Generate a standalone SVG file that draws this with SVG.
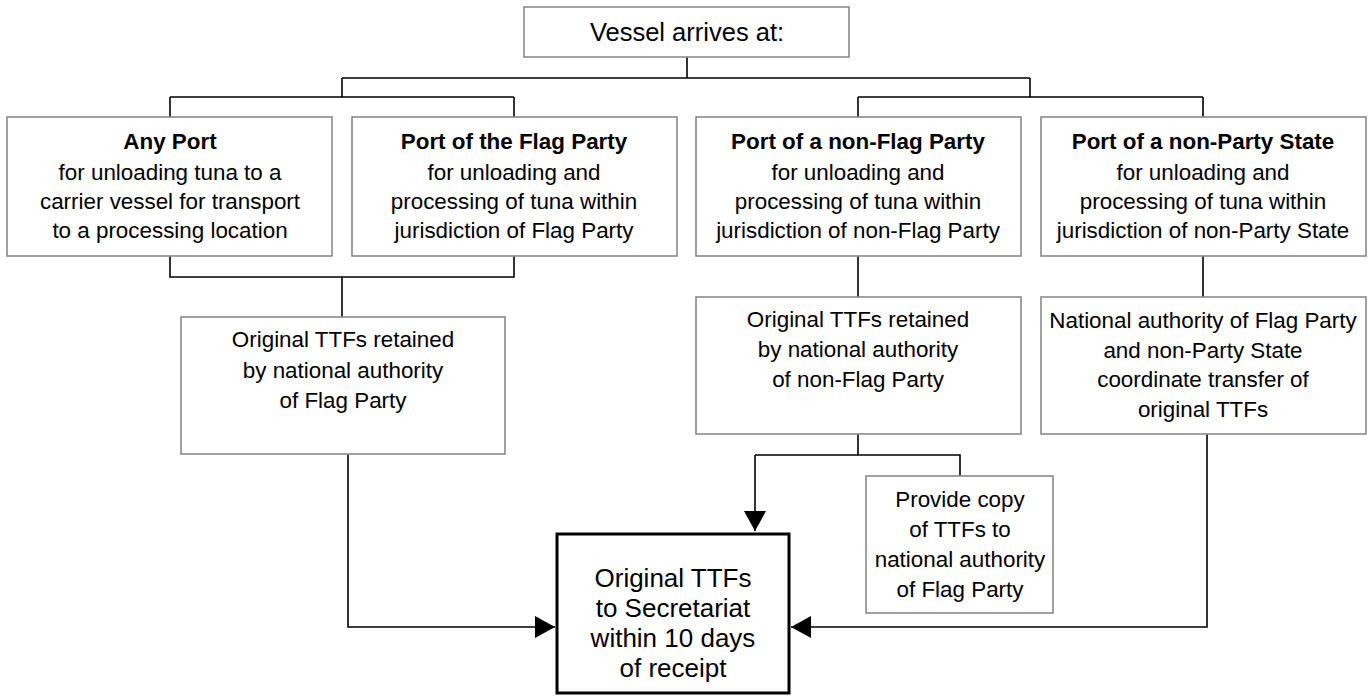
<svg xmlns="http://www.w3.org/2000/svg" width="1372" height="696" viewBox="0 0 1372 696">
<style>
.box{fill:#fff;stroke:#8a8a8a;stroke-width:1.6}
.main{fill:#fff;stroke:#000;stroke-width:3}
.t{font-family:"Liberation Sans",Arial,sans-serif;font-size:22.4px;fill:#000;text-anchor:middle}
.b{font-weight:bold}
.c{fill:none;stroke:#000;stroke-width:1.6}
</style>
<defs>
<marker id="ah" markerUnits="userSpaceOnUse" markerWidth="20" markerHeight="22" refX="20" refY="11" orient="auto">
<path d="M0,0 L20,11 L0,22 z" fill="#000"/>
</marker>
</defs>
<rect width="1372" height="696" fill="#fff"/>
<g id="connectors">
<path class="c" d="M687,57 V78 M342,78 H1030 M342,78 V97 M1030,78 V97 M170,97 H514 M858,97 H1203 M170,97 V117 M514,97 V117 M858,97 V117 M1203,97 V117"/>
<path class="c" d="M170,256 V277 H514 V256 M342,277 V317"/>
<path class="c" d="M858,256 V297 M1203,256 V297"/>
<path class="c" d="M858,434 V455 M755,455 H960 V476"/>
<path class="c" d="M755,455 V531" marker-end="url(#ah)"/>
<path class="c" d="M348,454 V627 H555" marker-end="url(#ah)"/>
<path class="c" d="M1207,434 V627 H791" marker-end="url(#ah)"/>
</g>
<g id="vessel">
<rect class="box" x="524" y="7" width="325" height="50"/>
<text class="t" x="687" y="41" style="font-size:25.5px">Vessel arrives at:</text>
</g>
<g id="any-port">
<rect class="box" x="7" y="117" width="325" height="139"/>
<text class="t" x="170" y="149"><tspan class="b">Any Port</tspan><tspan x="170" dy="30.5">for unloading tuna to a</tspan><tspan x="170" dy="29.5">carrier vessel for transport</tspan><tspan x="170" dy="29">to a processing location</tspan></text>
</g>
<g id="flag-port">
<rect class="box" x="352" y="117" width="325" height="139"/>
<text class="t" x="514" y="149"><tspan class="b">Port of the Flag Party</tspan><tspan x="514" dy="30.5">for unloading and</tspan><tspan x="514" dy="29.5">processing of tuna within</tspan><tspan x="514" dy="29">jurisdiction of Flag Party</tspan></text>
</g>
<g id="nonflag-port">
<rect class="box" x="696" y="117" width="325" height="139"/>
<text class="t" x="858" y="149"><tspan class="b">Port of a non-Flag Party</tspan><tspan x="858" dy="30.5">for unloading and</tspan><tspan x="858" dy="29.5">processing of tuna within</tspan><tspan x="858" dy="29">jurisdiction of non-Flag Party</tspan></text>
</g>
<g id="nonparty-port">
<rect class="box" x="1041" y="117" width="325" height="139"/>
<text class="t" x="1203" y="149"><tspan class="b">Port of a non-Party State</tspan><tspan x="1203" dy="30.5">for unloading and</tspan><tspan x="1203" dy="29.5">processing of tuna within</tspan><tspan x="1203" dy="29">jurisdiction of non-Party State</tspan></text>
</g>
<g id="retained-flag">
<rect class="box" x="181" y="317" width="324" height="137"/>
<text class="t" x="343" y="347"><tspan>Original TTFs retained</tspan><tspan x="343" dy="30.5">by national authority</tspan><tspan x="343" dy="30.5">of Flag Party</tspan></text>
</g>
<g id="retained-nonflag">
<rect class="box" x="696" y="297" width="325" height="137"/>
<text class="t" x="858" y="327"><tspan>Original TTFs retained</tspan><tspan x="858" dy="30">by national authority</tspan><tspan x="858" dy="30">of non-Flag Party</tspan></text>
</g>
<g id="coordinate">
<rect class="box" x="1041" y="297" width="325" height="137"/>
<text class="t" x="1203" y="328"><tspan>National authority of Flag Party</tspan><tspan x="1203" dy="29.5">and non-Party State</tspan><tspan x="1203" dy="29.5">coordinate transfer of</tspan><tspan x="1203" dy="29.5">original TTFs</tspan></text>
</g>
<g id="copy">
<rect class="box" x="866" y="476" width="187" height="137"/>
<text class="t" x="960" y="507"><tspan>Provide copy</tspan><tspan x="960" dy="30">of TTFs to</tspan><tspan x="960" dy="30">national authority</tspan><tspan x="960" dy="30">of Flag Party</tspan></text>
</g>
<g id="secretariat">
<rect class="main" x="557" y="534" width="232" height="159"/>
<text class="t" x="673" y="587" style="font-size:26px"><tspan>Original TTFs</tspan><tspan x="673" dy="30">to Secretariat</tspan><tspan x="673" dy="30">within 10 days</tspan><tspan x="673" dy="30">of receipt</tspan></text>
</g>
</svg>
